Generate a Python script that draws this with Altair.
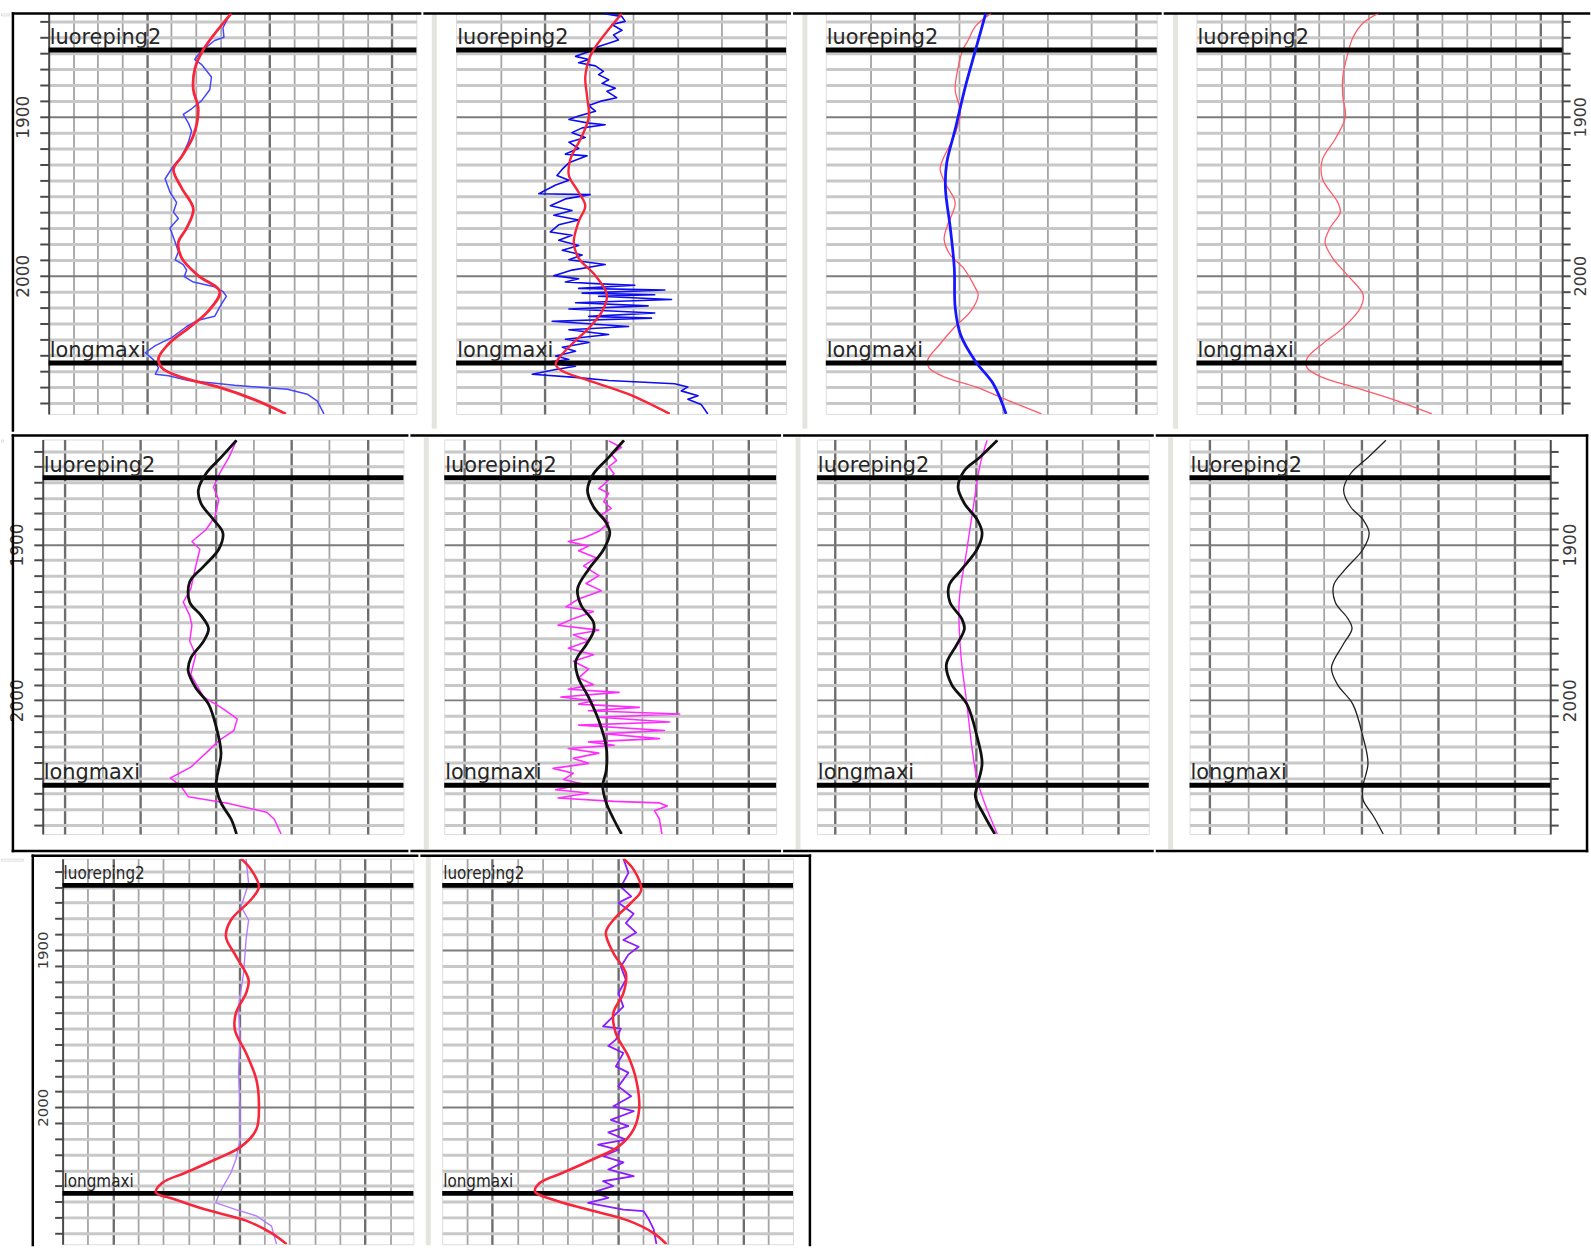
import json
import altair as alt
import pandas as pd

# ---------------- formation tops ----------------
TOP_NAMES = ["luoreping2", "longmaxi"]
TOPS_R1 = [1858.0, 2055.0]
TOPS_R2 = [1857.0, 2054.7]
TOPS_R3 = [1859.0, 2054.7]

DEPTH_TICKS_R12 = list(range(1840, 2081, 10))
DEPTH_TICKS_R3 = list(range(1850, 2081, 10))

# ---------------- row 1 curves (depth m, value in track units) ----------------
r1p1_red = [(1835, 7.45), (1858, 6.30), (1870, 5.96), (1883, 5.90), (1895, 6.10), (1912, 5.90),
            (1925, 5.43), (1933, 5.09), (1945, 5.43), (1958, 5.90), (1970, 5.63), (1979, 5.29),
            (1989, 5.43), (2000, 6.10), (2010, 6.98), (2022.5, 6.50), (2033, 5.70), (2043, 4.89),
            (2052, 4.48), (2058, 4.62), (2064, 5.43), (2070, 6.91), (2078, 8.39), (2087, 9.68)]
r1p1_blue = [(1838, 7.31), (1844, 7.11), (1850, 7.15), (1852, 6.77), (1857, 6.37), (1861, 6.10),
             (1864, 5.96), (1867, 6.23), (1875, 6.64), (1883, 6.57), (1890, 6.23), (1895, 5.83),
             (1898.5, 5.49), (1904, 5.70), (1909, 5.83), (1916, 5.70), (1925, 5.43), (1931, 5.09),
             (1939, 4.75), (1947.5, 4.95), (1954, 5.22), (1960, 5.09), (1964, 5.29), (1970, 4.95),
             (1979, 5.16), (1985, 5.29), (1990, 5.16), (1993, 5.49), (1996.5, 5.63), (2000.6, 5.53),
             (2004, 5.90), (2007, 6.77), (2010, 7.11), (2013, 7.25), (2018, 7.04), (2025.6, 6.77),
             (2028, 6.10), (2032, 5.63), (2039, 5.02), (2044, 4.35), (2048.5, 3.94), (2053, 4.28),
             (2058, 4.48), (2062, 4.35), (2063, 4.89), (2066, 5.70), (2069, 7.58), (2071.5, 9.74),
             (2074.6, 10.55), (2079, 10.96), (2087, 11.23)]
r1p2_red = [(1835, 3.75), (1845, 3.45), (1856, 3.15), (1862, 3.03), (1875, 2.92), (1887, 2.96),
            (1900, 3.00), (1912, 2.85), (1927, 2.58), (1937, 2.55), (1947.5, 2.77), (1956, 2.92),
            (1966, 2.77), (1979, 2.66), (1989, 2.77), (2000, 3.15), (2012, 3.41), (2022.5, 3.30),
            (2033, 3.00), (2043, 2.62), (2052, 2.32), (2056, 2.25), (2060, 2.40), (2066, 3.00),
            (2074.6, 3.90), (2087, 4.83)]
r1p2_blue = [(1835, 3.33), (1837, 3.75), (1840, 3.82), (1842, 3.52), (1845.6, 3.75), (1848.5, 3.56),
             (1851.7, 3.67), (1853.7, 3.45), (1855.8, 3.22), (1858, 3.11), (1862, 2.70), (1864, 3.00),
             (1866, 2.77), (1868, 3.15), (1871.5, 3.33), (1873.5, 3.22), (1876.7, 3.45), (1879, 3.30),
             (1882, 3.60), (1884, 3.41), (1888, 3.63), (1890, 3.30), (1893, 3.00), (1896.5, 3.15),
             (1899.6, 2.77), (1901.7, 2.55), (1904, 3.00), (1905, 3.37), (1907, 2.85), (1910, 2.62),
             (1913, 2.92), (1916, 2.55), (1920, 2.77), (1923.5, 2.47), (1924.6, 2.96), (1929, 2.55),
             (1933, 2.40), (1937, 2.28), (1940, 2.55), (1943, 2.25), (1948.5, 1.87), (1949, 3.03),
             (1951.7, 2.47), (1956, 2.13), (1959, 2.62), (1962, 2.21), (1965, 2.77), (1968, 2.32),
             (1972.5, 2.13), (1974.6, 2.62), (1977.7, 2.32), (1981, 2.77), (1984, 2.40), (1987, 2.85),
             (1990, 2.55), (1993, 3.37), (1996.5, 2.62), (2000, 2.21), (2002, 2.77), (2004, 2.47),
             (2005, 3.15), (2006, 4.04), (2008, 2.77), (2009, 4.72), (2011, 2.85), (2012, 4.49),
             (2013, 3.22), (2015, 4.87), (2017, 2.70), (2019, 4.34), (2021, 2.55), (2023.5, 4.49),
             (2025.6, 3.00), (2026.7, 4.42), (2028.7, 2.17), (2032, 3.90), (2034, 2.55), (2037, 3.45),
             (2040, 2.47), (2042, 3.00), (2045, 2.40), (2047.5, 2.70), (2050.6, 2.25), (2052.7, 2.55),
             (2054.8, 1.95), (2057, 2.70), (2059, 2.25), (2062, 1.72), (2064, 2.70), (2066, 3.45),
             (2068, 4.94), (2070, 5.24), (2072.5, 5.09), (2075.6, 5.47), (2077.7, 5.24), (2081, 5.54),
             (2087, 5.69)]
r1p3_red = [(1835, 3.73), (1843, 3.38), (1852, 3.21), (1858, 3.09), (1870, 2.98), (1883, 2.92),
            (1897.5, 3.04), (1912, 2.90), (1927, 2.64), (1933, 2.58), (1942, 2.70), (1954, 2.92),
            (1968, 2.75), (1977, 2.67), (1987, 2.81), (1995, 3.10), (2008, 3.38), (2012, 3.44),
            (2022.5, 3.27), (2032, 2.92), (2043, 2.58), (2053, 2.30), (2058, 2.33), (2064, 2.70),
            (2070, 3.38), (2078, 4.07), (2087, 4.87)]
r1p3_blue = [(1835, 3.61), (1858, 3.38), (1881, 3.15), (1908, 2.92), (1929, 2.73), (1945, 2.70),
             (1970, 2.81), (1995, 2.90), (2020, 2.92), (2037, 3.04), (2054, 3.38), (2068, 3.78),
             (2087, 4.07)]
r1p4_red = [(1835, 7.41), (1841, 6.79), (1850, 6.38), (1860, 6.17), (1875, 5.96), (1887, 5.96),
            (1900, 6.07), (1914, 5.65), (1927, 5.13), (1939, 5.13), (1954, 5.76), (1960, 5.86),
            (1970, 5.44), (1979, 5.24), (1989, 5.55), (2000, 6.17), (2012, 6.79), (2020, 6.69),
            (2033, 5.96), (2043, 5.13), (2052, 4.51), (2058, 4.51), (2064, 5.13), (2070, 6.38),
            (2078, 8.03), (2087, 9.59)]

# ---------------- row 2 curves ----------------
r2p1_black = [(1833, 5.54), (1844, 5.13), (1854.5, 4.73), (1865, 4.53), (1873.6, 4.60), (1884, 4.93),
              (1892.6, 5.18), (1903, 5.07), (1914, 4.67), (1924, 4.30), (1937, 4.30), (1945.5, 4.60),
              (1954, 4.80), (1962, 4.67), (1973, 4.33), (1981, 4.26), (1992, 4.46), (2002.5, 4.80),
              (2017, 5.00), (2034, 5.13), (2055, 5.00), (2066, 5.13), (2076.5, 5.40), (2086, 5.54)]
r2p1_magenta = [(1833, 5.54), (1844, 5.34), (1852.6, 5.13), (1863, 4.93), (1871.5, 5.07), (1882, 4.97),
                (1890.5, 4.73), (1898, 4.36), (1903, 4.57), (1914, 4.46), (1928.5, 4.33), (1937, 4.13),
                (1945.5, 4.30), (1952, 4.36), (1962, 4.30), (1971, 4.46), (1983.5, 4.33), (1998, 4.67),
                (2004.6, 5.13), (2012, 5.56), (2019.5, 5.47), (2026, 5.07), (2034, 4.73), (2043, 4.33),
                (2050, 3.79), (2055, 4.06), (2062, 4.26), (2066, 5.27), (2072, 6.34), (2076.5, 6.54),
                (2086, 6.72)]
r2p2_black = [(1833, 5.50), (1844, 5.07), (1854.5, 4.64), (1865, 4.47), (1875.7, 4.64), (1886, 5.00),
              (1892.6, 5.10), (1903, 4.93), (1916, 4.50), (1928.5, 4.19), (1939, 4.29), (1950, 4.64),
              (1956, 4.64), (1964.5, 4.43), (1975, 4.14), (1985.6, 4.21), (1998, 4.50), (2013, 4.79),
              (2030, 5.00), (2045, 5.00), (2055, 4.90), (2066, 5.00), (2076.5, 5.21), (2086, 5.43)]
r2p2_magenta = [(1833.4, 5.07), (1837.6, 5.43), (1842, 5.14), (1846, 5.29), (1850, 5.07), (1854.5, 5.22),
                (1860, 5.00), (1864, 4.79), (1867, 5.07), (1872.5, 4.93), (1876.7, 5.14), (1881, 4.86),
                (1886, 5.07), (1891.5, 4.79), (1895.8, 4.36), (1898, 3.93), (1901, 4.50), (1904, 4.22),
                (1908.5, 4.71), (1913.7, 4.36), (1920, 4.79), (1925, 4.43), (1929.6, 4.86), (1935, 4.22),
                (1940, 3.86), (1943, 4.64), (1947.6, 4.07), (1951.8, 3.64), (1955, 4.79), (1958, 4.07),
                (1962, 4.50), (1966.6, 3.93), (1970.8, 4.64), (1975, 4.07), (1980, 4.50), (1985.6, 4.22),
                (1990, 4.64), (1993, 3.93), (1995, 5.36), (1998, 3.72), (2000.4, 4.64), (2002.5, 4.22),
                (2004.6, 5.93), (2006.8, 4.50), (2008.9, 7.07), (2011, 4.79), (2014, 6.79), (2016, 4.22),
                (2019.5, 6.64), (2021.6, 4.93), (2024.7, 6.50), (2026.8, 4.50), (2029, 5.22), (2031, 3.93),
                (2034, 4.79), (2037.4, 4.07), (2040.6, 4.50), (2043.8, 3.50), (2047, 4.07), (2051, 3.79),
                (2054, 4.36), (2057.5, 3.57), (2059.6, 4.50), (2062.8, 3.64), (2065, 5.22), (2066, 6.50),
                (2068, 6.72), (2071, 6.36), (2076.5, 6.50), (2086, 6.57)]
r2p3_black = [(1833, 5.60), (1844, 5.10), (1852.4, 4.67), (1863, 4.49), (1873.6, 4.67), (1884, 5.03),
              (1892.6, 5.17), (1903, 5.03), (1916, 4.59), (1926, 4.24), (1937, 4.26), (1947.5, 4.59),
              (1954, 4.67), (1964.5, 4.45), (1977, 4.16), (1990, 4.31), (2002.5, 4.74), (2023.7, 5.03),
              (2040.6, 5.17), (2055, 5.03), (2062, 4.98), (2074.4, 5.24), (2086, 5.53)]
r2p3_magenta = [(1833, 5.31), (1850, 5.10), (1871.5, 4.95), (1903, 4.74), (1937, 4.52), (1971, 4.57),
                (2002.5, 4.74), (2030, 4.88), (2051, 5.03), (2066, 5.24), (2086, 5.60)]
r2p4_black = [(1833, 5.63), (1844, 5.16), (1854.5, 4.70), (1865, 4.52), (1875.7, 4.70), (1884, 5.03),
              (1892.6, 5.19), (1903, 5.03), (1916, 4.56), (1926, 4.26), (1937, 4.30), (1947.5, 4.63),
              (1954, 4.74), (1964.5, 4.50), (1979, 4.20), (1990, 4.36), (2002.5, 4.76), (2023.7, 5.03),
              (2040.6, 5.16), (2055, 5.03), (2064, 5.03), (2074.4, 5.30), (2086, 5.56)]

# ---------------- row 3 curves ----------------
r3p1_red = [(1842, 7.08), (1849, 7.48), (1860, 7.79), (1868, 7.48), (1881, 6.68), (1891.5, 6.48),
            (1904, 6.88), (1919, 7.38), (1927.5, 7.28), (1940, 6.88), (1951, 6.84), (1965.5, 7.28),
            (1982.5, 7.69), (1999, 7.79), (2014, 7.69), (2025, 7.08), (2033, 6.08), (2041.6, 4.87),
            (2048, 3.96), (2054, 3.70), (2058.6, 4.47), (2065, 5.67), (2072, 7.28), (2080, 8.29),
            (2087, 8.89)]
r3p1_purple = [(1842, 7.28), (1857.7, 7.38), (1872.5, 7.08), (1881, 7.38), (1893.7, 7.28), (1915, 7.18),
               (1936, 6.98), (1957, 7.04), (1978, 6.98), (1999, 7.04), (2020.5, 7.04), (2033, 6.88),
               (2041.6, 6.68), (2050, 6.38), (2056.4, 6.18), (2060.7, 6.08), (2065, 6.88), (2069, 7.69),
               (2075.5, 8.29), (2087, 8.49)]
r3p2_red = [(1842, 7.23), (1849, 7.64), (1862, 7.94), (1870, 7.54), (1881, 6.83), (1889, 6.53),
            (1902, 6.83), (1915, 7.33), (1927.5, 7.23), (1940, 6.83), (1953, 6.93), (1967.7, 7.43),
            (1982.5, 7.74), (2001, 7.86), (2014, 7.64), (2025, 7.03), (2033, 6.02), (2041.6, 4.81),
            (2048, 3.90), (2053.5, 3.70), (2058.6, 4.40), (2065, 5.82), (2072, 7.43), (2080, 8.44),
            (2087, 8.95)]
r3p2_purple = [(1842, 7.23), (1851, 7.43), (1860, 7.13), (1866, 7.54), (1870, 7.03), (1877, 7.64),
               (1883, 7.33), (1889, 7.74), (1893.7, 7.23), (1898, 7.84), (1903, 7.43), (1910.6, 7.13),
               (1919, 7.33), (1927.5, 7.03), (1936, 7.23), (1948.6, 6.42), (1950, 7.13), (1957, 6.93),
               (1961, 6.63), (1965.5, 7.23), (1974, 6.93), (1978, 7.43), (1986.7, 7.03), (1993, 7.54),
               (1999.4, 6.83), (2002.5, 7.64), (2008, 6.73), (2012, 7.43), (2016, 6.63), (2020.5, 7.33),
               (2023.7, 6.22), (2027, 7.03), (2031, 6.42), (2035, 7.23), (2039.5, 6.63), (2043.8, 7.64),
               (2047, 6.42), (2050, 6.83), (2054, 6.02), (2057.5, 6.63), (2060.7, 5.82), (2065, 7.23),
               (2066, 8.04), (2071, 8.24), (2077.6, 8.44), (2087, 8.55)]


def curve_df(pairs):
    return pd.DataFrame({"depth": [p[0] for p in pairs],
                         "value": [p[1] for p in pairs],
                         "i": list(range(len(pairs)))})


ONE = pd.DataFrame({"k": [0]})
FT = 2.5         # frame line thickness
LEFT_ROOM = 38   # room kept left of every first track (axis + frame)
TOPRULE_PAD = 5  # overhang of the formation rules (stroke 5)


def box(x1, x2, y1, y2, color="black"):
    """Filled rectangle in panel pixels (frame / separator decoration)."""
    return alt.Chart(ONE).mark_rect(color=color).encode(
        x=alt.value(x1), x2=alt.value(x2), y=alt.value(y1), y2=alt.value(y2))


def spacer(w):
    return box(w / 2.0 - 0.5, w / 2.0 + 0.5, 0, 1, color="white").properties(width=w, height=2)


def panel(curves, xdom, xmajor, ydom, yticks, tops, width, height, side=None,
          label_size=21, label_font="DejaVu Sans", axis_label_size=17, tick_size=9,
          label_pad=7, extra=None):
    xs = alt.Scale(domain=xdom, nice=False, zero=False)
    ys = alt.Scale(domain=ydom, nice=False, zero=False, reverse=True)
    xgrid = [k for k in range(1, 20) if xdom[0] < k < xdom[1]]
    mtest = "indexof(%s, datum.value) >= 0" % json.dumps(xmajor)
    xaxis = alt.Axis(values=xgrid, grid=True, labels=False, ticks=False, domain=False, title=None,
                     gridColor={"condition": {"test": mtest, "value": "#6e6e6e"}, "value": "#a4a4a4"},
                     gridWidth={"condition": {"test": mtest, "value": 2.4}, "value": 1.8})
    ytest = "datum.value % 100 === 0"
    ycommon = dict(values=yticks, grid=True, title=None,
                   gridColor={"condition": {"test": ytest, "value": "#7c7c7c"}, "value": "#c8c8c8"},
                   gridWidth={"condition": {"test": ytest, "value": 2}, "value": 3})
    if side is None:
        yaxis = alt.Axis(labels=False, ticks=False, domain=False, **ycommon)
    else:
        yaxis = alt.Axis(orient=side, labels=True, ticks=True, domain=True, tickSize=tick_size,
                         tickWidth=2, tickColor="#4a4a4a", domainColor="#4a4a4a", domainWidth=2,
                         labelAngle=270, labelFontSize=axis_label_size, labelColor="#3a3a3a",
                         labelFont="DejaVu Sans", labelPadding=label_pad, labelOverlap=False,
                         format="d", labelExpr="datum.value % 100 === 0 ? datum.label : ''",
                         **ycommon)
    tdf = pd.DataFrame({"name": TOP_NAMES, "depth": tops})
    layers = []
    rule = alt.Chart(tdf).mark_rule(color="black", strokeWidth=5).encode(
        y=alt.Y("depth:Q", scale=ys, axis=yaxis))
    text = alt.Chart(tdf).mark_text(align="left", baseline="bottom", dy=-2, fontSize=label_size,
                                    font=label_font, color="#262626").encode(
        x=alt.value(1), y=alt.Y("depth:Q", scale=ys, axis=yaxis), text="name:N")
    for pairs, color, sw, interp in curves:
        layers.append(alt.Chart(curve_df(pairs)).mark_line(
            color=color, strokeWidth=sw, interpolate=interp, clip=True, strokeJoin="round").encode(
            x=alt.X("value:Q", scale=xs, axis=xaxis),
            y=alt.Y("depth:Q", scale=ys, axis=yaxis),
            order="i:Q"))
    allx = [layers[0], rule, text] + layers[1:]
    if extra:
        allx = extra + allx
    return alt.layer(*allx).properties(width=width, height=height)


def decorations(widths, gap, frame_left, top_y, left_bottom, right_end, bottom_y=None,
                right_bottom=None, sep_dx=None, sep_top=0, sep_bottom=400):
    """Each track draws its share of the row frame, as filled boxes."""
    h = FT / 2.0
    out = []
    n = len(widths)
    for i, w in enumerate(widths):
        items = []
        x1 = frame_left - h if i == 0 else -(gap - TOPRULE_PAD)
        x2 = right_end + h if i == n - 1 else w + TOPRULE_PAD
        if i > 0 and sep_dx is not None:
            items.append(box(-sep_dx[i - 1] - 2.5, -sep_dx[i - 1] + 2.5, sep_top, sep_bottom,
                             color="#e4e4e0"))
        items.append(box(x1, x2, top_y - h, top_y + h))
        if bottom_y is not None:
            items.append(box(x1, x2, bottom_y - h, bottom_y + h))
        if i == 0:
            items.append(box(frame_left - h, frame_left + h, top_y - h, left_bottom))
            items.append(box(-LEFT_ROOM, -LEFT_ROOM + 0.5, top_y, top_y + 1, color="white"))
        if i == n - 1 and right_bottom is not None:
            items.append(box(right_end - h, right_end + h, top_y - h, right_bottom))
        out.append(items)
    return out


RED = "#f7263a"
RED_T = "#ff5a6a"
BLUE_T = "#4646ff"
BLUE_N = "#0c0cf0"
BLUE_K = "#1717ff"
MAG = "#ff2cff"
BLK = "#111111"
PUR_T = "#b47cff"
PUR_N = "#8a1cff"

# ---------------- row 1 ----------------
R1Y = [1835, 2087]
R1H = 403
R1W = [370, 332, 333, 368]
d1 = decorations(R1W, 38, -36, 0, 421, right_end=395, sep_dx=[22, 21, 21], sep_top=0, sep_bottom=418)
r1 = alt.hconcat(
    spacer(8),
    panel([(r1p1_blue, BLUE_T, 1.5, "linear"), (r1p1_red, RED, 2.8, "catmull-rom")],
          [0, 15], [4, 9, 14], R1Y, DEPTH_TICKS_R12, TOPS_R1, R1W[0], R1H, side="left", extra=d1[0]),
    panel([(r1p2_blue, BLUE_N, 1.6, "linear"), (r1p2_red, RED, 2.4, "catmull-rom")],
          [0, 7.46], [2, 7], R1Y, DEPTH_TICKS_R12, TOPS_R1, R1W[1], R1H, extra=d1[1]),
    panel([(r1p3_red, RED_T, 1.3, "catmull-rom"), (r1p3_blue, BLUE_K, 2.8, "catmull-rom")],
          [0, 7.47], [2, 7], R1Y, DEPTH_TICKS_R12, TOPS_R1, R1W[2], R1H, extra=d1[2]),
    panel([(r1p4_red, RED_T, 1.3, "catmull-rom")],
          [0, 14.9], [4, 9, 14], R1Y, DEPTH_TICKS_R12, TOPS_R1, R1W[3], R1H, side="right",
          axis_label_size=16, tick_size=8, label_pad=2, extra=d1[3]),
    spacing=0)

# ---------------- row 2 ----------------
R2Y = [1832.5, 2086]
R2H = 397
R2W = [363, 334, 334, 363]
d2 = decorations(R2W, 39, -30, -4, 415.25, right_end=400, bottom_y=414, right_bottom=415.25,
                 sep_dx=[18, 19, 19], sep_top=-2, sep_bottom=412)
r2 = alt.hconcat(
    spacer(2),
    panel([(r2p1_magenta, MAG, 1.5, "linear"), (r2p1_black, BLK, 2.8, "catmull-rom")],
          [0.41, 9.96], [1, 3, 5, 7, 9], R2Y, DEPTH_TICKS_R12, TOPS_R2, R2W[0], R2H, side="left",
          extra=d2[0]),
    panel([(r2p2_magenta, MAG, 1.6, "linear"), (r2p2_black, BLK, 2.8, "catmull-rom")],
          [0.43, 9.79], [1, 3, 5, 7, 9], R2Y, DEPTH_TICKS_R12, TOPS_R2, R2W[1], R2H, extra=d2[1]),
    panel([(r2p3_magenta, MAG, 1.4, "catmull-rom"), (r2p3_black, BLK, 2.8, "catmull-rom")],
          [0.5, 9.88], [1, 3, 5, 7, 9], R2Y, DEPTH_TICKS_R12, TOPS_R2, R2W[2], R2H, extra=d2[2]),
    panel([(r2p4_black, "#222222", 1.3, "catmull-rom")],
          [0.47, 9.95], [1, 3, 5, 7, 9], R2Y, DEPTH_TICKS_R12, TOPS_R2, R2W[3], R2H, side="right",
          tick_size=8, label_pad=4, extra=d2[3]),
    spacing=0)

# ---------------- row 3 ----------------
R3Y = [1842, 2087]
R3H = 388
R3W = [353, 353]
d3 = decorations(R3W, 27, -30, -3, 390, right_end=370, right_bottom=390, sep_dx=[14],
                 sep_top=-2, sep_bottom=389)
R3FONT = "DejaVu Sans Condensed, DejaVu Sans"
r3 = alt.hconcat(
    spacer(22),
    panel([(r3p1_purple, PUR_T, 1.4, "linear"), (r3p1_red, RED, 2.6, "catmull-rom")],
          [0, 13.92], [2, 7, 12], R3Y, DEPTH_TICKS_R3, TOPS_R3, R3W[0], R3H, side="left",
          label_size=17, label_font=R3FONT, axis_label_size=15, tick_size=8, label_pad=4,
          extra=d3[0]),
    panel([(r3p2_purple, PUR_N, 1.8, "linear"), (r3p2_red, RED, 2.6, "catmull-rom")],
          [0, 14], [2, 7, 12], R3Y, DEPTH_TICKS_R3, TOPS_R3, R3W[1], R3H,
          label_size=17, label_font=R3FONT, extra=d3[1]),
    spacing=0)

chart = alt.vconcat(r1, r2, r3, spacing=0.75).properties(
    padding={"left": 0, "top": 7.6, "right": 0, "bottom": 0}
).configure_view(strokeWidth=0).configure(background="white")

chart.save("out.html", embed_options={"renderer": "svg", "actions": False})
